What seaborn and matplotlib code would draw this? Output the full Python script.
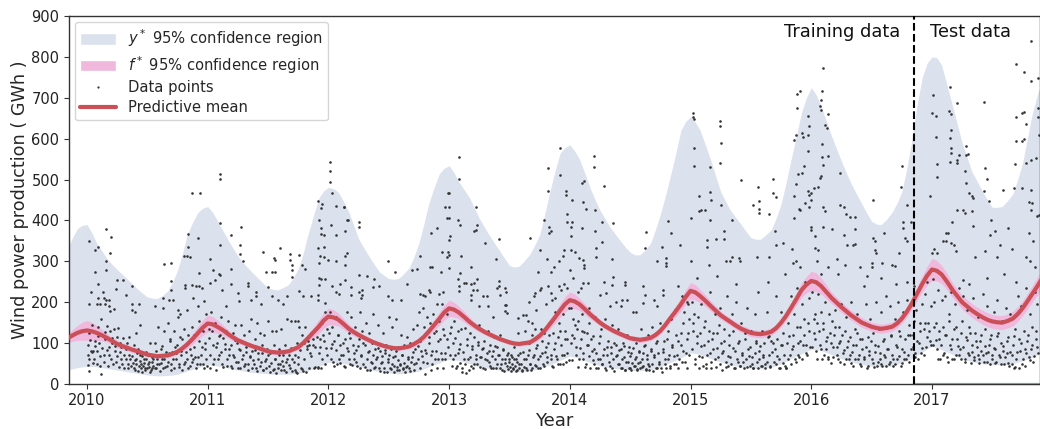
import pandas as pd
import matplotlib
matplotlib.use("Agg")
import matplotlib.pyplot as plt
from matplotlib.lines import Line2D
from matplotlib.patches import Patch
import seaborn as sns

# readings, twice a month
half_months = [.0, .04, .08, .125, .17, .21, .25, .29, .33, .375, .42, .46, .5, .54, .58, .625, .67, .71, .75, .79, .83, .875, .92, .96]
curve_start = [2009.83, 2009.875, 2009.92, 2009.96]
y_upper = [325, 355, 380, 388,
    390, 370, 345, 325, 305, 292, 280, 269, 258, 245, 232, 222, 213, 210, 209, 216, 228, 250, 278, 318,
    365, 395, 420, 430][:28] + [
    434, 420, 400, 376, 352, 332, 313, 298, 285, 271, 258, 246, 235, 232, 230, 236, 243, 260, 282, 318, 365, 410, 455, 472,
    481, 478, 470, 447, 420, 388, 355, 335, 315, 295, 275, 266, 258, 256, 258, 270, 285, 312, 345, 390, 440, 480, 515, 528,
    534, 517, 495, 475, 455, 430, 405, 385, 365, 345, 325, 307, 290, 286, 288, 302, 318, 340, 365, 412, 465, 518, 565, 578,
    585, 570, 550, 515, 478, 450, 425, 405, 385, 367, 350, 335, 322, 316, 316, 328, 345, 378, 415, 458, 505, 560, 620, 642,
    654, 640, 620, 583, 545, 507, 470, 447, 425, 407, 390, 373, 358, 354, 354, 365, 378, 406, 440, 490, 545, 605, 665, 700,
    725, 708, 680, 643, 605, 575, 545, 517, 490, 465, 440, 418, 398, 391, 390, 403, 420, 442, 470, 525, 590, 680, 750, 785,
    800, 798, 780, 730, 680, 635, 590, 555, 520, 495, 470, 450, 432, 432, 434, 448, 465, 500, 540, 600, 660, 710, 745, 760]
y_lower = [34, 37, 40, 42,
    43, 43, 42, 40, 38, 36, 34, 32, 30, 28, 26, 24, 22, 21, 20, 20, 21, 22, 24, 28, 32, 36, 40, 44,
    47, 46, 44, 42, 39, 36, 34, 32, 30, 28, 27, 26, 25, 24, 24, 24, 24, 25, 26, 29, 33, 38, 43, 48,
    53, 53, 52, 50, 48, 45, 42, 39, 36, 33, 31, 29, 28, 26, 25, 26, 27, 29, 32, 37, 42, 47, 52, 57,
    60, 59, 58, 54, 50, 46, 42, 40, 38, 36, 34, 32, 31, 30, 30, 31, 33, 35, 38, 42, 46, 52, 58, 63,
    68, 66, 62, 57, 52, 48, 44, 42, 40, 38, 36, 35, 34, 33, 33, 34, 35, 38, 42, 47, 52, 58, 64, 70,
    76, 75, 72, 67, 62, 58, 54, 50, 47, 44, 42, 40, 39, 38, 38, 39, 41, 45, 50, 56, 62, 68, 74, 80,
    85, 84, 82, 77, 72, 67, 62, 58, 54, 51, 48, 46, 44, 43, 42, 43, 44, 48, 52, 57, 62, 70, 78, 86,
    92, 89, 84, 78, 72, 67, 62, 58, 55, 52, 50, 48, 47, 47, 47, 48, 50, 53, 57, 61, 65, 72, 82, 88]
pred_mean = [110, 118, 125, 129,
    131, 129, 125, 119, 112, 105, 98, 93, 89, 84, 80, 76, 72, 70, 68, 69, 70, 74, 79, 87, 97, 110, 125, 138,
    148, 146, 140, 132, 122, 114, 107, 102, 97, 92, 88, 84, 80, 78, 77, 78, 80, 85, 90, 100, 112, 126, 140, 155,
    165, 163, 158, 147, 135, 127, 120, 114, 108, 102, 97, 93, 90, 88, 87, 89, 92, 98, 105, 115, 128, 144, 160, 175,
    185, 182, 175, 164, 152, 143, 135, 128, 122, 116, 110, 106, 102, 99, 98, 100, 102, 109, 118, 130, 145, 162, 180, 195,
    205, 202, 195, 183, 170, 160, 150, 142, 135, 128, 122, 117, 112, 110, 108, 110, 113, 120, 130, 144, 160, 177, 195, 213,
    228, 224, 215, 203, 190, 179, 168, 160, 152, 143, 135, 130, 125, 123, 122, 124, 128, 137, 150, 166, 185, 207, 230, 243,
    252, 249, 240, 225, 210, 199, 188, 178, 168, 159, 150, 145, 140, 137, 135, 137, 140, 148, 160, 176, 195, 220, 245, 265,
    280, 277, 268, 250, 230, 215, 200, 190, 180, 171, 163, 157, 153, 151, 150, 154, 160, 171, 185, 202, 220, 240, 262, 270]
f_half = [10, 14, 18, 22,
    24, 22, 18, 14, 10, 9, 9, 8, 8, 7, 7, 6, 6, 6, 6, 6, 6, 6, 7, 8, 10, 13, 16, 19,
    20, 19, 16, 13, 10, 9, 8, 7, 7, 6, 6, 6, 6, 6, 6, 6, 6, 6, 7, 8, 10, 13, 17, 19,
    20, 19, 16, 13, 11, 9, 8, 7, 7, 6, 6, 5, 5, 5, 5, 5, 6, 7, 8, 9, 10, 13, 16, 18,
    20, 18, 15, 13, 11, 9, 8, 7, 7, 6, 6, 6, 6, 6, 6, 6, 6, 7, 8, 10, 12, 14, 17, 19,
    20, 18, 15, 13, 11, 9, 8, 7, 7, 7, 7, 7, 7, 7, 7, 7, 7, 7, 8, 9, 11, 13, 16, 18,
    20, 19, 16, 14, 12, 11, 10, 9, 9, 9, 9, 9, 9, 9, 9, 9, 9, 9, 10, 11, 12, 15, 18, 20,
    24, 23, 20, 17, 14, 13, 13, 12, 12, 12, 12, 11, 11, 11, 11, 11, 11, 11, 12, 13, 14, 17, 20, 23,
    27, 25, 22, 20, 18, 17, 17, 17, 17, 17, 17, 17, 17, 17, 17, 17, 18, 18, 18, 19, 20, 22, 24, 25]

# data points as (fraction of year, GWh)
points_2010 = [(.02,349),(.09,336),(.07,327),(.16,380),(.20,359),(.19,320),(.16,300),(.16,278),(.07,273),(.03,226),(.02,195),(.09,245),(.09,210),(.08,195),(.11,195),(.13,225),(.14,210),(.16,205),(.18,205),(.15,195),(.18,190),(.19,178),(.22,183),(.24,232),(.25,255),(.30,255),(.32,217),(.37,240),(.37,195),(.37,180),(.43,195),(.40,175),(.44,145),(.41,125),(.64,293),(.70,296),(.70,251),(.84,367),(.84,335),(.80,313),(.83,313),(.85,310),(.87,467),(.94,467),(.92,356),(.93,271),(.87,243),(.90,240),(.93,239),(.95,235),(.81,243),(.81,235),(.70,230),(.71,206),(.63,186),(.63,210),(.56,191),(.68,205),(.75,180),(.77,170),(.83,180),(.88,210),(.92,190),(.97,202),(.99,170),
    (.01,70),(.01,47),(.02,33),(.12,25),(.11,43),(.04,145),(.02,125),(.03,80),(.05,80),(.06,62),(.07,105),(.08,80),(.09,140),(.10,100),(.12,160),(.13,118),(.14,70),(.15,110),(.17,142),(.18,90),(.19,130),(.20,60),(.21,100),(.22,135),(.23,80),(.24,55),(.25,115),(.26,138),(.27,100),(.28,90),(.29,50),(.30,112),(.31,72),(.32,60),(.33,100),(.34,40),(.35,115),(.36,60),(.37,85),(.38,52),(.39,95),(.40,35),(.41,60),(.42,85),(.43,45),(.44,70),(.45,50),(.46,30),(.47,62),(.48,40),(.49,78),(.50,38),(.51,55),(.52,100),(.53,35),(.54,65),(.55,45),(.56,100),(.57,40),(.58,60),(.59,140),(.60,50),(.61,85),(.62,62),(.63,38),(.64,130),(.65,70),(.66,45),(.67,150),(.68,75),(.69,110),(.70,35),(.71,60),(.72,130),(.73,90),(.74,75),(.75,165),(.76,50),(.77,115),(.78,80),(.79,35),(.80,135),(.81,55),(.82,95),(.83,60),(.84,120),(.85,45),(.86,70),(.87,140),(.88,60),(.89,90),(.90,40),(.91,125),(.92,65),(.93,155),(.94,50),(.95,90),(.96,130),(.97,40),(.98,100),(.99,60)]
points_2011 = [(.10,514),(.10,501),(.10,393),(.10,340),(.19,364),(.28,383),(.27,340),(.27,318),(.29,300),(.02,305),(.04,278),(.09,270),(.10,267),(.19,281),(.02,247),(.06,255),(.19,245),(.33,248),(.33,239),(.25,222),(.26,202),(.40,226),(.40,214),(.46,322),(.55,308),(.56,304),(.60,332),(.48,273),(.53,275),(.56,273),(.50,237),(.68,318),(.68,304),(.70,292),(.70,279),(.70,261),(.76,316),(.78,292),(.81,281),(.76,228),(.79,216),(.86,214),(.91,447),(.95,440),(.94,430),(.92,401),(.94,381),(.94,366),(.96,365),(.96,336),(.91,332),(.93,312),(.96,310),(.92,296),(.92,259),(.94,257),(.97,257),(.92,243),(.91,218),(.91,206),(.97,198),(.12,230),(.15,190),(.36,205),(.44,195),(.53,215),(.58,205),(.62,195),(.66,215),(.72,155),(.75,155),
    (.01,135),(.02,40),(.03,175),(.04,95),(.05,60),(.06,150),(.07,35),(.08,100),(.09,70),(.10,120),(.11,165),(.12,50),(.13,112),(.14,85),(.15,130),(.16,45),(.17,155),(.18,70),(.19,95),(.20,40),(.21,125),(.22,65),(.23,145),(.24,100),(.25,55),(.26,85),(.27,40),(.28,145),(.29,72),(.30,120),(.31,48),(.32,90),(.33,35),(.34,130),(.35,65),(.36,160),(.37,80),(.38,50),(.39,110),(.40,40),(.41,150),(.42,75),(.43,125),(.44,55),(.45,95),(.46,35),(.47,120),(.48,60),(.49,85),(.50,155),(.51,45),(.52,75),(.53,130),(.54,35),(.55,95),(.56,60),(.57,130),(.58,40),(.59,85),(.60,50),(.61,135),(.62,70),(.63,35),(.64,95),(.65,55),(.66,160),(.67,70),(.68,40),(.69,155),(.70,60),(.71,85),(.72,35),(.73,30),(.74,100),(.75,65),(.76,140),(.77,40),(.78,120),(.79,32),(.80,100),(.81,140),(.82,85),(.83,105),(.84,95),(.85,75),(.86,125),(.87,110),(.88,40),(.89,90),(.90,135),(.91,42),(.92,75),(.93,110),(.94,38),(.95,150),(.96,105),(.97,175),(.98,88),(.99,135)]
points_2012 = [(.01,543),(.01,520),(.01,493),(.03,467),(.06,436),(.13,434),(.16,401),(.02,388),(.06,365),(.14,375),(.00,304),(.06,301),(.14,312),(.13,432),(.15,401),(.25,395),(.25,385),(.15,320),(.14,292),(.49,301),(.55,275),(.25,267),(.32,265),(.14,255),(.19,237),(.37,237),(.38,257),(.42,240),(.28,229),(.25,224),(.19,218),(.28,218),(.27,210),(.49,214),(.53,206),(.60,206),(.65,245),(.69,279),(.73,281),(.76,313),(.85,370),(.90,381),(.84,286),(.86,286),(.76,220),(.78,218),(.83,230),(.84,225),(.93,275),(.94,322),(.99,467),(.10,245),(.03,240),(.06,225),(.09,220),(.97,432),(.98,405),(.99,322),(.98,310),(.95,225),(.92,220),(.90,195),(.80,215),
    (.01,175),(.02,88),(.03,140),(.04,55),(.05,105),(.06,165),(.07,48),(.08,120),(.09,60),(.10,95),(.11,150),(.12,70),(.13,45),(.14,110),(.15,175),(.16,80),(.17,125),(.18,50),(.19,165),(.20,95),(.21,60),(.22,140),(.23,82),(.24,45),(.25,110),(.26,175),(.27,70),(.28,130),(.29,50),(.30,95),(.31,150),(.32,35),(.33,78),(.34,125),(.35,55),(.36,100),(.37,170),(.38,40),(.39,85),(.40,65),(.41,145),(.42,38),(.43,80),(.44,55),(.45,125),(.46,30),(.47,75),(.48,95),(.49,62),(.50,165),(.51,40),(.52,85),(.53,140),(.54,45),(.55,68),(.56,160),(.57,35),(.58,90),(.59,50),(.60,120),(.61,72),(.62,38),(.63,95),(.64,42),(.65,115),(.66,60),(.67,40),(.68,100),(.69,65),(.70,135),(.71,48),(.72,85),(.73,145),(.74,60),(.75,175),(.76,105),(.77,80),(.78,185),(.79,140),(.80,25),(.81,75),(.82,165),(.83,100),(.84,150),(.85,35),(.86,80),(.87,170),(.88,60),(.89,130),(.90,38),(.91,105),(.92,155),(.93,75),(.94,195),(.95,40),(.96,120),(.97,60),(.98,170),(.99,90)]
points_2013 = [(.08,555),(.08,501),(.00,467),(.00,432),(.00,405),(.07,401),(.09,389),(.22,432),(.23,388),(.22,377),(.21,374),(.30,345),(.41,355),(.01,362),(.00,351),(.00,315),(.10,314),(.39,305),(.18,285),(.00,283),(.09,271),(.07,257),(.23,257),(.12,247),(.14,247),(.18,245),(.21,247),(.08,240),(.08,228),(.18,218),(.20,230),(.23,230),(.18,206),(.28,216),(.31,214),(.41,251),(.41,239),(.46,235),(.47,226),(.40,235),(.42,218),(.25,190),(.32,190),(.46,194),(.47,194),(.46,178),(.48,173),(.36,165),(.57,161),(.61,169),(.64,169),(.67,358),(.75,327),(.79,401),(.82,528),(.82,471),(.83,385),(.84,373),(.83,370),(.81,305),(.74,274),(.84,275),(.92,577),(.92,510),(.91,302),(.94,312),(.95,328),(.82,239),(.75,230),(.76,235),(.71,222),(.70,214),(.84,222),(.85,206),(.91,239),(.93,230),(.87,285),(.97,473),(.97,463),(.98,415),(.98,395),(.66,200),(.72,180),(.80,195),(.88,210),(.95,245),(.98,235),(.65,155),(.69,150),
    (.01,125),(.02,45),(.03,100),(.04,155),(.05,70),(.06,38),(.07,130),(.08,85),(.09,52),(.10,135),(.11,30),(.12,60),(.13,138),(.14,28),(.15,95),(.16,60),(.17,125),(.18,45),(.19,85),(.20,40),(.21,115),(.22,60),(.23,50),(.24,95),(.25,145),(.26,65),(.27,85),(.28,40),(.29,105),(.30,60),(.31,75),(.32,130),(.33,55),(.34,95),(.35,40),(.36,80),(.37,115),(.38,60),(.39,40),(.40,90),(.41,70),(.42,120),(.43,50),(.44,35),(.45,85),(.46,60),(.47,105),(.48,45),(.49,75),(.50,55),(.51,32),(.52,65),(.53,40),(.54,90),(.55,60),(.56,35),(.57,125),(.58,50),(.59,75),(.60,35),(.61,100),(.62,60),(.63,130),(.64,40),(.65,70),(.66,100),(.67,50),(.68,35),(.69,120),(.70,72),(.71,135),(.72,45),(.73,95),(.74,60),(.75,40),(.76,135),(.77,75),(.78,50),(.79,125),(.80,90),(.81,65),(.82,100),(.83,148),(.84,70),(.85,45),(.86,125),(.87,85),(.88,175),(.89,60),(.90,115),(.91,150),(.92,50),(.93,95),(.94,170),(.95,70),(.96,130),(.97,55),(.98,110),(.99,185)]
points_2014 = [(.02,450),(.02,395),(.01,385),(.01,361),(.10,491),(.12,497),(.20,558),(.20,530),(.28,485),(.11,444),(.13,428),(.21,426),(.27,395),(.36,393),(.10,381),(.21,375),(.27,347),(.22,332),(.22,310),(.01,328),(.04,322),(.08,308),(.11,304),(.12,292),(.12,283),(.00,279),(.35,306),(.63,371),(.62,332),(.76,334),(.91,340),(.81,399),(.84,370),(.72,301),(.80,308),(.80,295),(.80,288),(.36,261),(.28,250),(.35,243),(.46,250),(.46,242),(.61,239),(.77,229),(.77,218),(.62,218),(.61,197),(.43,206),(.47,206),(.30,222),(.25,218),(.15,248),(.11,248),(.09,235),(.03,260),(.07,225),(.38,200),(.52,175),(.55,175),(.90,240),(.93,215),(.97,200),(.98,195),(.16,185),(.33,190),(.42,190),(.70,205),(.72,190),
    (.01,185),(.02,120),(.03,160),(.04,145),(.05,90),(.06,135),(.07,155),(.08,60),(.09,110),(.10,170),(.11,75),(.12,128),(.13,50),(.14,125),(.15,95),(.16,150),(.17,40),(.18,80),(.19,118),(.20,48),(.21,165),(.22,75),(.23,40),(.24,100),(.25,62),(.26,135),(.27,50),(.28,85),(.29,160),(.30,35),(.31,70),(.32,105),(.33,45),(.34,90),(.35,145),(.36,60),(.37,33),(.38,95),(.39,72),(.40,135),(.41,50),(.42,85),(.43,38),(.44,100),(.45,65),(.46,35),(.47,120),(.48,55),(.49,90),(.50,40),(.51,75),(.52,110),(.53,45),(.54,60),(.55,100),(.56,35),(.57,80),(.58,55),(.59,135),(.60,42),(.61,75),(.62,95),(.63,35),(.64,60),(.65,120),(.66,45),(.67,80),(.68,140),(.69,32),(.70,65),(.71,100),(.72,38),(.73,75),(.74,50),(.75,150),(.76,30),(.77,85),(.78,105),(.79,60),(.80,40),(.81,130),(.82,70),(.83,45),(.84,160),(.85,90),(.86,50),(.87,180),(.88,120),(.89,70),(.90,40),(.91,195),(.92,95),(.93,55),(.94,150),(.95,175),(.96,75),(.97,40),(.98,125),(.99,160)]
points_2015 = [(.02,662),(.02,652),(.03,649),(.24,644),(.24,631),(.25,590),(.24,541),(.03,577),(.03,532),(.16,530),(.07,461),(.16,469),(.17,450),(.25,438),(.12,426),(.07,423),(.09,425),(.16,400),(.34,402),(.00,405),(.42,498),(.56,481),(.57,448),(.52,438),(.57,428),(.57,418),(.65,415),(.68,467),(.71,458),(.68,501),(.70,373),(.71,340),(.77,344),(.28,373),(.28,354),(.21,354),(.14,352),(.14,336),(.86,405),(.87,609),(.86,597),(.88,674),(.91,717),(.88,709),(.87,489),(.89,514),(.92,516),(.94,532),(.86,461),(.91,426),(.90,428),(.95,442),(.98,434),(.97,471),(.98,463),(.92,613),(.93,605),(.97,609),(.98,630),(.97,656),(.97,571),(.29,300),(.34,310),(.40,308),(.41,300),(.55,310),(.65,310),(.84,330),(.87,300),(.91,285),(.85,295),(.78,270),(.64,250),(.33,300),(.38,245),(.22,265),(.15,290),(.05,260),(.00,300),
    (.01,200),(.02,130),(.03,170),(.04,50),(.05,100),(.06,165),(.07,68),(.08,125),(.09,195),(.10,45),(.11,95),(.12,155),(.13,38),(.14,72),(.15,130),(.16,225),(.17,55),(.18,110),(.19,85),(.20,170),(.21,42),(.22,125),(.23,65),(.24,185),(.25,100),(.26,35),(.27,80),(.28,135),(.29,55),(.30,215),(.31,45),(.32,95),(.33,65),(.34,170),(.35,130),(.36,40),(.37,80),(.38,200),(.39,55),(.40,105),(.41,45),(.42,150),(.43,70),(.44,40),(.45,125),(.46,60),(.47,185),(.48,85),(.49,45),(.50,130),(.51,65),(.52,40),(.53,170),(.54,100),(.55,55),(.56,225),(.57,80),(.58,45),(.59,130),(.60,65),(.61,100),(.62,50),(.63,175),(.64,115),(.65,70),(.66,45),(.67,105),(.68,135),(.69,55),(.70,85),(.71,215),(.72,110),(.73,60),(.74,40),(.75,175),(.76,95),(.77,125),(.78,45),(.79,38),(.80,100),(.81,150),(.82,70),(.83,215),(.84,85),(.85,120),(.86,170),(.87,55),(.88,235),(.89,100),(.90,65),(.91,140),(.92,195),(.93,95),(.94,120),(.95,250),(.96,75),(.97,150),(.98,210),(.99,90)]
points_2016 = [(.10,772),(.09,717),(.08,695),(.07,680),(.08,670),(.14,660),(.11,634),(.13,625),(.09,587),(.14,558),(.09,555),(.10,536),(.24,517),(.08,508),(.07,503),(.02,480),(.06,483),(.00,467),(.98,460),(.00,450),(.10,432),(.11,422),(.24,437),(.27,434),(.29,415),(.32,409),(.36,409),(.51,450),(.75,534),(.74,483),(.76,395),(.76,381),(.83,397),(.79,438),(.60,369),(.51,356),(.53,350),(.36,379),(.17,379),(.10,385),(.03,362),(.00,385),(.00,377),(.27,365),(.78,356),(.79,350),(.35,340),(.36,342),(.30,340),(.21,305),(.03,332),(.06,328),(.50,295),(.50,287),(.59,296),(.67,292),(.69,288),(.73,320),(.54,320),(.53,328),(.05,300),(.08,270),(.22,270),(.28,290),(.40,285),(.46,265),(.58,260),(.70,245),(.79,250),(.14,285),(.44,240),(.85,240),
    (.01,225),(.02,125),(.03,170),(.04,80),(.05,150),(.06,220),(.07,95),(.08,175),(.09,60),(.10,135),(.11,200),(.12,85),(.13,115),(.14,60),(.15,170),(.16,100),(.17,155),(.18,65),(.19,120),(.20,180),(.21,90),(.22,60),(.23,140),(.24,105),(.25,195),(.26,75),(.27,50),(.28,130),(.29,165),(.30,90),(.31,60),(.32,115),(.33,200),(.34,78),(.35,45),(.36,135),(.37,95),(.38,170),(.39,60),(.40,110),(.41,45),(.42,85),(.43,150),(.44,65),(.45,195),(.46,40),(.47,115),(.48,80),(.49,160),(.50,60),(.51,125),(.52,42),(.53,95),(.54,200),(.55,55),(.56,135),(.57,75),(.58,175),(.59,45),(.60,110),(.61,65),(.62,215),(.63,85),(.64,50),(.65,190),(.66,120),(.67,70),(.68,45),(.69,160),(.70,95),(.71,60),(.72,200),(.73,130),(.74,45),(.75,85),(.76,175),(.77,60),(.78,110),(.79,205),(.80,70),(.81,145),(.82,120),(.83,195),(.84,90),(.85,155),(.86,65),(.87,180),(.88,225),(.89,100),(.90,150),(.91,75),(.92,195),(.93,135),(.94,220),(.95,90),(.96,250),(.97,150),(.98,105),(.99,190)]
points_2017 = [(.99,740),(.98,701),(.01,707),(.00,662),(.03,656),(.88,674),(.88,652),(.92,696),(.03,605),(.97,562),(.86,552),(.04,537),(.91,511),(.93,507),(.04,507),(.15,726),(.14,667),(.16,660),(.21,687),(.16,622),(.15,601),(.16,577),(.16,565),(.22,560),(.28,582),(.30,563),(.28,560),(.21,548),(.21,540),(.15,542),(.44,528),(.46,501),(.27,520),(.28,491),(.43,689),(.43,472),(.59,475),(.68,479),(.75,479),(.82,475),(.70,782),(.76,762),(.82,840),(.82,740),(.88,748),(.76,666),(.75,662),(.70,652),(.78,637),(.70,595),(.75,595),(.76,600),(.69,537),(.78,540),(.82,548),(.89,610),(.80,446),(.83,442),(.82,426),(.95,446),(.87,410),(.89,414),(.95,411),(.98,411),(.33,459),(.34,455),(.31,467),(.47,448),(.21,426),(.26,426),(.27,418),(.33,424),(.17,395),(.34,387),(.12,370),(.13,370),(.09,350),(.12,350),(.49,400),(.48,365),(.52,373),(.63,381),(.80,370),(.84,350),(.16,345),(.18,340),(.20,325),(.36,310),(.44,325),(.56,340),(.66,330),(.78,310),(.81,300),(.85,285),(.02,330),(.04,320),(.00,320),(.26,255),(.31,245),(.46,260),(.54,310),(.60,270),(.70,250),
    (.01,258),(.02,200),(.03,150),(.04,85),(.05,230),(.06,110),(.07,60),(.08,205),(.09,140),(.10,75),(.11,215),(.12,120),(.13,55),(.14,170),(.15,95),(.16,225),(.17,60),(.18,135),(.19,195),(.20,70),(.21,110),(.22,235),(.23,85),(.24,60),(.25,155),(.26,215),(.27,55),(.28,115),(.29,180),(.30,75),(.31,140),(.32,52),(.33,95),(.34,210),(.35,65),(.36,125),(.37,90),(.38,165),(.39,60),(.40,105),(.41,80),(.42,220),(.43,55),(.44,135),(.45,75),(.46,190),(.47,95),(.48,50),(.49,120),(.50,70),(.51,175),(.52,85),(.53,55),(.54,205),(.55,125),(.56,65),(.57,100),(.58,155),(.59,80),(.60,50),(.61,185),(.62,75),(.63,115),(.64,45),(.65,170),(.66,70),(.67,95),(.68,40),(.69,135),(.70,60),(.71,215),(.72,110),(.73,80),(.74,190),(.75,50),(.76,130),(.77,85),(.78,235),(.79,105),(.80,65),(.81,170),(.82,85),(.83,140),(.84,55),(.85,225),(.86,110),(.87,195),(.88,75)]

# the thick cloud under the mean, estimated by eye (too dense to read one by one)
cloud_2010 = [(.005,95),(.017,62),(.028,108),(.043,78),(.052,52),(.066,92),(.081,48),(.094,118),(.107,68),(.122,88),(.138,55),(.152,128),(.167,82),(.173,45),(.186,72),(.204,112),(.218,48),(.233,92),(.247,68),(.263,42),(.277,78),(.284,60),(.306,38),(.322,85),(.337,50),(.345,72),(.366,45),(.372,68),(.387,38),(.396,58),(.405,48),(.418,75),(.424,33),(.437,56),(.448,40),(.456,68),(.463,44),(.471,52),(.484,35),(.492,60),(.503,48),(.508,72),(.516,42),(.523,30),(.536,55),(.542,40),(.551,62),(.564,38),(.573,80),(.583,48),(.594,70),(.606,32),(.612,52),(.625,92),(.637,60),(.648,42),(.656,78),(.673,55),(.684,105),(.697,48),(.706,78),(.724,38),(.736,62),(.743,95),(.762,42),(.775,70),(.788,110),(.806,48),(.817,78),(.838,38),(.852,85),(.867,55),(.884,120),(.896,65),(.912,48),(.928,105),(.946,72),(.962,50),(.978,85),(.993,44)]
cloud_2011 = [(.007,112),(.023,72),(.036,130),(.048,48),(.067,90),(.084,62),(.096,118),(.112,78),(.127,42),(.143,98),(.158,60),(.176,85),(.192,45),(.208,72),(.223,108),(.238,55),(.254,38),(.267,82),(.283,60),(.302,45),(.318,78),(.334,48),(.347,68),(.364,38),(.376,58),(.392,82),(.407,32),(.418,62),(.433,44),(.447,75),(.458,35),(.472,56),(.486,40),(.503,70),(.514,30),(.526,52),(.538,78),(.547,36),(.558,62),(.569,28),(.582,48),(.593,70),(.607,34),(.618,56),(.628,44),(.637,80),(.648,30),(.661,62),(.673,46),(.687,88),(.698,32),(.712,54),(.726,70),(.737,28),(.752,48),(.768,82),(.783,36),(.797,60),(.812,30),(.826,92),(.841,40),(.857,68),(.872,95),(.888,42),(.903,115),(.915,38),(.927,90),(.943,60),(.958,120),(.973,48),(.986,72)]
cloud_2012 = [(.006,125),(.019,62),(.033,98),(.047,44),(.064,82),(.078,120),(.092,52),(.108,72),(.123,100),(.137,42),(.154,88),(.168,60),(.183,112),(.198,46),(.213,75),(.229,55),(.243,92),(.258,38),(.274,68),(.289,100),(.303,42),(.318,62),(.334,80),(.347,34),(.358,52),(.372,72),(.386,42),(.397,60),(.411,88),(.424,32),(.436,52),(.448,68),(.457,40),(.468,82),(.482,30),(.493,55),(.504,72),(.516,36),(.527,48),(.538,65),(.547,30),(.558,80),(.568,42),(.577,58),(.588,34),(.596,46),(.607,72),(.617,36),(.628,52),(.638,30),(.648,45),(.662,65),(.673,32),(.686,55),(.698,78),(.712,34),(.727,52),(.741,92),(.756,40),(.772,68),(.787,55),(.803,82),(.818,52),(.832,115),(.847,70),(.862,50),(.878,125),(.893,80),(.907,60),(.924,110),(.938,62),(.952,135),(.967,75),(.982,110)]
cloud_2013 = [(.006,72),(.018,140),(.031,60),(.047,112),(.062,45),(.076,75),(.092,98),(.105,40),(.118,78),(.133,50),(.147,110),(.162,35),(.177,65),(.193,92),(.207,48),(.224,72),(.238,102),(.254,42),(.268,65),(.284,88),(.297,36),(.313,58),(.327,80),(.338,44),(.352,68),(.367,38),(.383,92),(.396,50),(.408,72),(.423,38),(.436,60),(.447,82),(.456,32),(.467,52),(.478,70),(.488,36),(.497,60),(.506,42),(.514,72),(.523,50),(.532,36),(.541,62),(.549,44),(.557,32),(.566,55),(.574,70),(.583,38),(.592,50),(.603,32),(.614,78),(.624,42),(.636,62),(.647,34),(.658,82),(.672,50),(.684,38),(.696,65),(.708,46),(.723,88),(.737,38),(.753,68),(.767,105),(.784,45),(.797,78),(.813,55),(.827,120),(.843,60),(.858,42),(.874,100),(.887,68),(.904,50),(.916,130),(.932,72),(.947,48),(.963,110),(.976,75),(.993,58)]
cloud_2014 = [(.009,100),(.022,58),(.037,112),(.053,72),(.068,42),(.085,88),(.098,130),(.113,60),(.127,42),(.142,95),(.157,68),(.172,110),(.188,58),(.204,85),(.218,40),(.233,62),(.247,118),(.263,48),(.277,72),(.293,40),(.306,90),(.322,55),(.338,75),(.352,40),(.367,100),(.383,68),(.396,48),(.407,82),(.423,38),(.436,62),(.447,92),(.457,35),(.468,55),(.478,78),(.488,40),(.497,68),(.508,34),(.517,52),(.527,88),(.537,44),(.547,66),(.556,36),(.565,52),(.574,78),(.584,38),(.596,60),(.606,45),(.617,92),(.627,36),(.638,70),(.648,50),(.658,34),(.669,85),(.683,48),(.697,70),(.712,38),(.726,105),(.742,55),(.757,38),(.773,78),(.786,48),(.803,110),(.817,62),(.832,40),(.848,95),(.863,68),(.878,48),(.893,105),(.908,60),(.923,125),(.938,80),(.952,55),(.968,110),(.984,72)]
cloud_2015 = [(.008,85),(.023,150),(.038,60),(.054,118),(.068,40),(.083,92),(.098,65),(.114,140),(.128,48),(.144,105),(.158,75),(.173,40),(.188,125),(.203,60),(.218,88),(.234,145),(.248,50),(.264,76),(.278,105),(.294,42),(.307,68),(.322,120),(.337,50),(.352,88),(.368,38),(.383,62),(.396,100),(.412,45),(.426,75),(.438,55),(.453,110),(.467,42),(.482,68),(.494,90),(.507,48),(.518,38),(.532,75),(.544,105),(.556,40),(.567,62),(.578,92),(.592,44),(.603,72),(.618,38),(.632,55),(.646,118),(.658,42),(.673,78),(.687,100),(.704,48),(.718,68),(.733,40),(.748,95),(.763,52),(.776,72),(.788,40),(.804,62),(.818,118),(.832,48),(.848,92),(.863,62),(.878,140),(.892,72),(.906,105),(.922,62),(.938,160),(.953,95),(.968,70),(.984,130)]
cloud_2016 = [(.006,90),(.021,160),(.034,110),(.049,62),(.064,130),(.078,85),(.094,150),(.107,70),(.122,105),(.138,65),(.153,125),(.167,52),(.182,90),(.198,140),(.213,72),(.227,100),(.242,55),(.258,120),(.273,82),(.287,60),(.304,105),(.317,70),(.333,52),(.347,95),(.362,60),(.377,125),(.392,72),(.407,48),(.422,110),(.436,62),(.452,90),(.466,45),(.482,72),(.497,105),(.512,52),(.526,78),(.541,44),(.556,92),(.567,62),(.578,48),(.592,105),(.606,72),(.622,44),(.636,85),(.652,55),(.664,118),(.678,62),(.692,48),(.708,90),(.723,68),(.737,118),(.752,52),(.768,78),(.783,62),(.798,120),(.812,55),(.828,85),(.843,120),(.858,75),(.872,105),(.888,60),(.902,130),(.918,88),(.933,72),(.946,150),(.962,115),(.978,130),(.992,95)]
cloud_2017 = [(.006,95),(.019,140),(.035,108),(.048,62),(.062,130),(.077,95),(.092,70),(.108,120),(.123,65),(.138,155),(.154,85),(.168,110),(.183,62),(.198,140),(.214,92),(.228,70),(.244,125),(.258,90),(.274,62),(.288,108),(.304,72),(.318,125),(.334,78),(.348,58),(.364,105),(.378,70),(.392,52),(.407,120),(.423,72),(.437,92),(.452,55),(.466,78),(.482,110),(.496,62),(.512,88),(.526,52),(.542,118),(.556,72),(.572,50),(.586,92),(.602,65),(.618,105),(.632,52),(.647,78),(.662,50),(.678,118),(.692,42),(.707,78),(.722,38),(.738,100),(.752,62),(.768,45),(.783,75),(.798,120),(.812,58),(.828,95),(.842,68),(.858,130),(.872,90)]

point_sets = {2010: points_2010 + cloud_2010, 2011: points_2011 + cloud_2011, 2012: points_2012 + cloud_2012,
              2013: points_2013 + cloud_2013, 2014: points_2014 + cloud_2014, 2015: points_2015 + cloud_2015,
              2016: points_2016 + cloud_2016, 2017: points_2017 + cloud_2017}

split_year = 2016.85

rows = []
for year, pts in point_sets.items():
    for frac, gwh in pts:
        rows.append((year + frac, gwh))
points = pd.DataFrame(rows, columns=["year", "gwh"])

band_years = curve_start + [year + f for year in range(2010, 2018) for f in half_months]
curve = pd.DataFrame({"year": band_years, "upper": y_upper, "lower": y_lower, "mean": pred_mean, "half": f_half})

sns.set_theme(style="ticks")
plt.rcParams["font.family"] = "DejaVu Sans"

fig = plt.figure(figsize=(10.4, 4.29), dpi=100)
ax = fig.add_axes([68.5 / 1040, 45 / 429, 971.5 / 1040, 368 / 429])

ax.fill_between(curve["year"], curve["lower"], curve["upper"], color="#dce1ee", lw=0, zorder=1)
ax.fill_between(curve["year"], curve["mean"] - curve["half"], curve["mean"] + curve["half"],
                color="#f0b8dc", lw=0, zorder=2)
sns.scatterplot(data=points, x="year", y="gwh", s=3.5, color="#333333", linewidth=0, ax=ax, zorder=3, legend=False)
sns.lineplot(data=curve, x="year", y="mean", color="#cb4f57", lw=3, ax=ax, zorder=4, estimator=None, legend=False)
ax.axvline(split_year, color="black", ls="--", lw=1.5, zorder=5)
ax.plot([split_year, 2017.895], [0, 0], color="#8fc48f", lw=1.6, clip_on=False, zorder=1.5)

ax.set_xlim(2009.847, 2017.895)
ax.set_ylim(0, 900)
ax.set_xticks(range(2010, 2018))
ax.set_yticks(range(0, 901, 100))
ax.tick_params(labelsize=10.5, length=3.5, width=0.8, color="#333333", labelcolor="#222222", pad=3)
ax.set_xlabel("Year", fontsize=13, labelpad=3)
ax.set_ylabel("Wind power production ( GWh )", fontsize=12.7, labelpad=2)
for side in ax.spines.values():
    side.set_linewidth(1.0)
    side.set_color("#333333")

ax.text(2016.735, 883, "Training data", ha="right", va="top", fontsize=12.8, color="#111111", zorder=6)
ax.text(2016.98, 883, "Test data", ha="left", va="top", fontsize=12.8, color="#111111", zorder=6)

handles = [Patch(facecolor="#dce1ee", label=r"$y^*$ 95% confidence region"),
           Patch(facecolor="#f0b8dc", label=r"$f^*$ 95% confidence region"),
           Line2D([], [], ls="", marker="o", ms=1.6, mew=0, color="#333333", label="Data points"),
           Line2D([], [], color="#cb4f57", lw=3, label="Predictive mean")]
ax.legend(handles=handles, loc="upper left", fontsize=10.6, frameon=True, framealpha=0.8,
          borderaxespad=0.42, handlelength=2.45, handleheight=0.85, labelspacing=0.33,
          borderpad=0.35).set_zorder(7)

fig.savefig("out.png", dpi=100)
